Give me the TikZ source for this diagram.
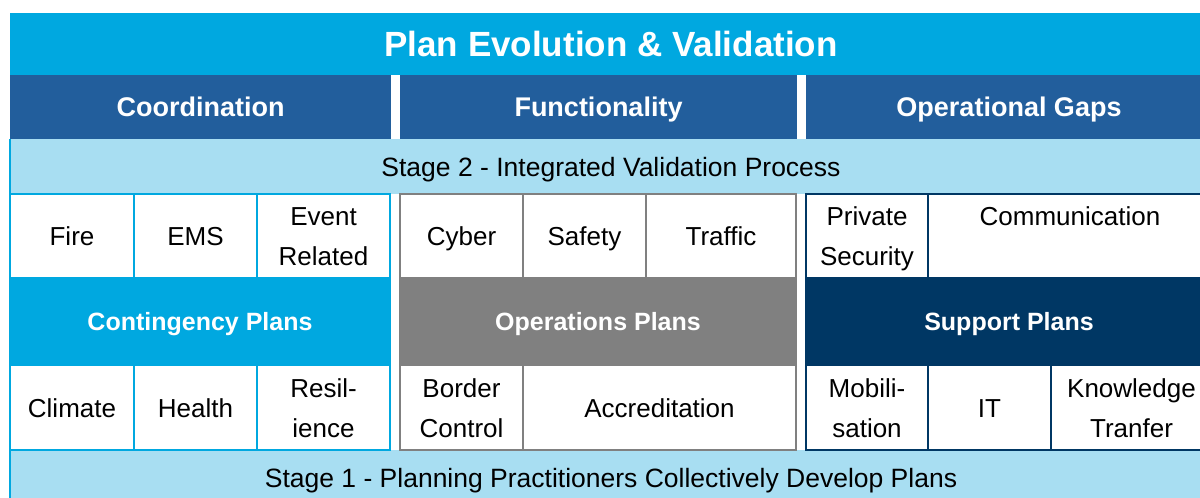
\documentclass[tikz,border=0pt]{standalone}
\usepackage{fontspec}
\setmainfont{Liberation Sans}
\usepackage{xcolor}

\definecolor{cyanblue}{HTML}{00A8E0}
\definecolor{headblue}{HTML}{225E9C}
\definecolor{paleblue}{HTML}{A8DEF2}
\definecolor{opsgrey}{HTML}{808080}
\definecolor{navy}{HTML}{003764}

\tikzset{
  box/.style={inner sep=0pt, outer sep=0pt, anchor=north west, align=center, text depth=0pt},
  titlebar/.style={box, fill=cyanblue, text=white, minimum height=62pt, text height=25pt, font=\fontsize{35}{40}\selectfont\bfseries},
  headbar/.style={box, fill=headblue, text=white, minimum height=64pt, text height=19.5pt, font=\fontsize{27}{32}\selectfont\bfseries},
  stagebar/.style={box, fill=paleblue, minimum width=1202pt, minimum height=55pt, text height=19pt, font=\fontsize{26.5}{32}\selectfont},
  cell/.style={box, draw=#1, fill=white, line width=2pt, minimum height=84pt, text height=19pt, font=\fontsize{26}{40}\selectfont},
  twoline/.style={text height=59pt},
  planbar/.style={box, draw=#1, fill=#1, line width=2pt, text=white, minimum height=87pt, text height=18pt, font=\fontsize{25}{30}\selectfont\bfseries},
}

\begin{document}
\begin{tikzpicture}[x=1pt, y=-1pt]
    \useasboundingbox[fill=white] (0,0) rectangle (1200,498);

    % Title and column headers
    \node[titlebar, minimum width=1202pt] (title) at (10,13) {Plan Evolution \& Validation};
    \node[headbar, minimum width=381pt] (coord) at (10,75) {Coordination};
    \node[headbar, minimum width=397pt] (func) at (400,75) {Functionality};
    \node[headbar, minimum width=406pt] (gaps) at (806,75) {Operational Gaps};

    % Stage bands
    \node[stagebar] (stage2) at (10,139) {Stage 2 - Integrated Validation Process};
    \node[stagebar] (stage1) at (10,450) {Stage 1 - Planning Practitioners Collectively Develop Plans};

    % Contingency plans
    \node[cell=cyanblue, minimum width=124pt] (fire) at (10,194) {Fire};
    \node[cell=cyanblue, minimum width=123pt] (ems) at (134,194) {EMS};
    \node[cell=cyanblue, twoline, minimum width=133pt] (event) at (257,194) {Event\\Related};
    \node[planbar=cyanblue, minimum width=380pt] (contingency) at (10,278) {Contingency Plans};
    \node[cell=cyanblue, minimum width=124pt, minimum height=85pt] (climate) at (10,365) {Climate};
    \node[cell=cyanblue, minimum width=123pt, minimum height=85pt] (health) at (134,365) {Health};
    \node[cell=cyanblue, twoline, minimum width=133pt, minimum height=85pt] (resilience) at (257,365) {Resil-\\ience};

    % Operations plans
    \node[cell=opsgrey, minimum width=123pt] (cyber) at (400,194) {Cyber};
    \node[cell=opsgrey, minimum width=123pt] (safety) at (523,194) {Safety};
    \node[cell=opsgrey, minimum width=150pt] (traffic) at (646,194) {Traffic};
    \node[planbar=opsgrey, minimum width=396pt] (operations) at (400,278) {Operations Plans};
    \node[cell=opsgrey, twoline, minimum width=123pt, minimum height=85pt] (border) at (400,365) {Border\\Control};
    \node[cell=opsgrey, minimum width=273pt, minimum height=85pt] (accred) at (523,365) {Accreditation};

    % Support plans
    \node[cell=navy, twoline, minimum width=122pt] (private) at (806,194) {Private\\Security};
    \node[cell=navy, twoline, minimum width=284pt] (comm) at (928,194) {Communication\\\mbox{}};
    \node[planbar=navy, minimum width=406pt] (support) at (806,278) {Support Plans};
    \node[cell=navy, twoline, minimum width=122pt, minimum height=85pt] (mobil) at (806,365) {Mobili-\\sation};
    \node[cell=navy, minimum width=123pt, minimum height=85pt] (it) at (928,365) {IT};
    \node[cell=navy, twoline, minimum width=161pt, minimum height=85pt] (knowledge) at (1051,365) {Knowledge\\Tranfer};

    % Left edge of the bands
    \draw[cyanblue, line width=2pt] (stage2.north west) -- (stage1.south west);
\end{tikzpicture}
\end{document}
